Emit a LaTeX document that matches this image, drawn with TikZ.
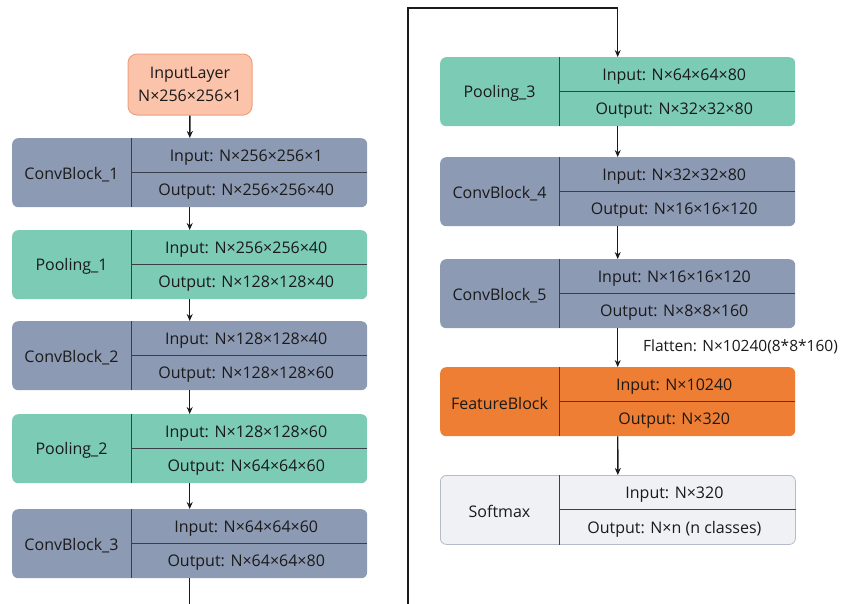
\documentclass[tikz,border=0pt]{standalone}
\usepackage{fontspec}
\setmainfont{Open Sans}
\usetikzlibrary{arrows.meta,calc}

\definecolor{convfill}{HTML}{8D9AB4}
\definecolor{poolfill}{HTML}{7CCBB4}
\definecolor{featfill}{HTML}{EE7E33}
\definecolor{softfill}{HTML}{EFF1F5}
\definecolor{softline}{HTML}{B4BCCA}
\definecolor{inputfill}{HTML}{FAC3AA}
\definecolor{inputline}{HTML}{F0A07E}
\definecolor{ink}{HTML}{1A1A1A}
\definecolor{rule}{HTML}{3A3F4A}

\tikzset{
  blockbox/.style={rounded corners=6pt, minimum width=355pt, minimum height=69pt,
                   inner sep=0pt, anchor=north west},
  convbox/.style={blockbox, fill=convfill},
  poolbox/.style={blockbox, fill=poolfill},
  featbox/.style={blockbox, fill=featfill},
  softbox/.style={blockbox, fill=softfill, draw=softline, line width=0.8pt},
  divider/.style={draw=rule, line width=1pt},
  lbl/.style={font=\fontsize{16}{19}\selectfont, text=ink, inner sep=1pt},
  flow/.style={draw=ink, line width=1.4pt, -{Stealth[length=7pt,width=6pt]}},
}

% #1 name, #2 left x, #3 top y, #4 box style, #5 title, #6 input text, #7 output text
\newcommand\layerblock[7]{%
  \node[#4] (#1) at (#2,#3) {};
  \coordinate (#1-st) at ([xshift=119pt]#1.north west);
  \coordinate (#1-sb) at ([xshift=119pt]#1.south west);
  \coordinate (#1-sm) at ([xshift=119pt]#1.west);
  \draw[divider] (#1-st) -- (#1-sb);
  \draw[divider] (#1-sm) -- (#1.east);
  \node[lbl] (#1-title) at ($(#1.west)!0.5!(#1-sm)+(0,1.5)$) {#5};
  \node[lbl] (#1-in) at ($($(#1-st)!0.5!(#1.north east)$)!0.5!($(#1-sm)!0.5!(#1.east)$)+(-3pt,2)$) {#6};
  \node[lbl] (#1-out) at ($($(#1-sb)!0.5!(#1.south east)$)!0.5!($(#1-sm)!0.5!(#1.east)$)+(-3pt,2)$) {#7};
}

\begin{document}
\begin{tikzpicture}[x=1pt, y=-1pt]
  \fill[white] (0,0) rectangle (842,603);
  \useasboundingbox (0,0) rectangle (842,603);
  \clip (0,0) rectangle (842,603);

  % input layer
  \node[rounded corners=9pt, fill=inputfill, draw=inputline, line width=1pt,
        minimum width=124pt, minimum height=61pt, align=center, inner sep=0pt,
        font=\fontsize{16}{23}\selectfont, text=ink]
        (input) at (190,84.5) {InputLayer\\N×256×256×1};

  % left column
  \layerblock{cb1}{12}{138}{convbox}{ConvBlock\_1}{Input: N×256×256×1}{Output: N×256×256×40}
  \layerblock{pl1}{12}{230}{poolbox}{Pooling\_1}{Input: N×256×256×40}{Output: N×128×128×40}
  \layerblock{cb2}{12}{321}{convbox}{ConvBlock\_2}{Input: N×128×128×40}{Output: N×128×128×60}
  \layerblock{pl2}{12}{414}{poolbox}{Pooling\_2}{Input: N×128×128×60}{Output: N×64×64×60}
  \layerblock{cb3}{12}{509}{convbox}{ConvBlock\_3}{Input: N×64×64×60}{Output: N×64×64×80}

  % right column
  \layerblock{pl3}{440}{57}{poolbox}{Pooling\_3}{Input: N×64×64×80}{Output: N×32×32×80}
  \layerblock{cb4}{440}{157}{convbox}{ConvBlock\_4}{Input: N×32×32×80}{Output: N×16×16×120}
  \layerblock{cb5}{440}{259}{convbox}{ConvBlock\_5}{Input: N×16×16×120}{Output: N×8×8×160}
  \layerblock{fb}{440}{367}{featbox}{FeatureBlock}{Input: N×10240}{Output: N×320}
  \layerblock{sm}{440}{475}{softbox}{Softmax}{Input: N×320}{Output: N×n (n classes)}

  \node[lbl, anchor=west, font=\fontsize{15.5}{18}\selectfont] (flat) at (642,347) {Flatten: N×10240(8*8*160)};

  % connectors
  \draw[flow] (input) -- (cb1);
  \draw[flow] (cb1) -- (pl1);
  \draw[flow] (pl1) -- (cb2);
  \draw[flow] (cb2) -- (pl2);
  \draw[flow] (pl2) -- (cb3);

  \coordinate (loopB) at (408,640);
  \coordinate (loopT) at (408,8);
  \draw[flow] (cb3.south) |- (loopB) -- (loopT) -| (pl3.north);

  \draw[flow] (pl3) -- (cb4);
  \draw[flow] (cb4) -- (cb5);
  \draw[flow] (cb5) -- (fb);
  \draw[flow] (fb) -- (sm);
\end{tikzpicture}
\end{document}
